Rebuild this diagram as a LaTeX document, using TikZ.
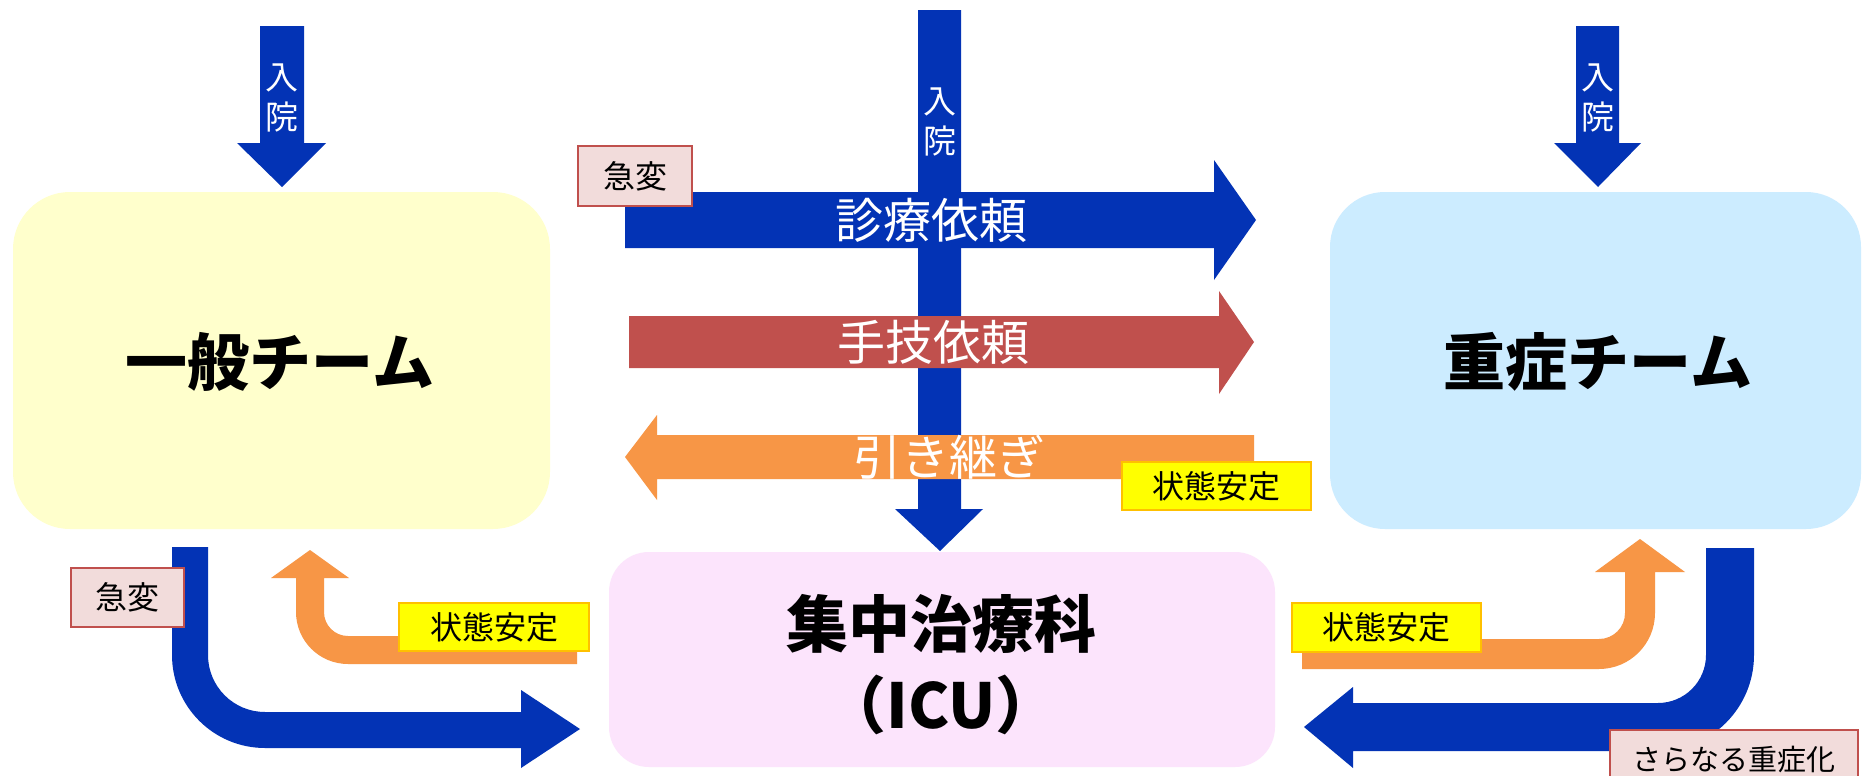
\documentclass[tikz,border=0pt]{standalone}
\usepackage{fontspec}
\newfontfamily\jp{Noto Sans CJK JP}
\definecolor{arrowblue}{RGB}{3,51,181}
\definecolor{arrowred}{RGB}{192,80,77}
\definecolor{arroworange}{RGB}{247,150,70}
\definecolor{teamyellow}{RGB}{255,255,204}
\definecolor{teamblue}{RGB}{204,236,255}
\definecolor{teampink}{RGB}{252,228,252}
\definecolor{tagpink}{RGB}{242,220,219}
\definecolor{tagred}{RGB}{192,80,77}
\definecolor{tagyellow}{RGB}{255,255,0}
\definecolor{taggold}{RGB}{255,192,0}
\begin{document}
\begin{tikzpicture}[x=0.5pt,y=-0.5pt,
  team/.style={inner sep=0, font=\jp\bfseries\fontsize{31}{36}\selectfont, text=black},
  teamlbl/.style={inner sep=0, font=\jp\bfseries\fontsize{31}{36}\selectfont, text=black},
  arrowtxt/.style={inner sep=0, text=white, font=\jp\fontsize{24}{28}\selectfont},
  admit/.style={inner sep=0, text=white, align=center, font=\jp\fontsize{16.5}{20}\selectfont},
  changetag/.style={draw=tagred, fill=tagpink, line width=1pt, inner sep=0, font=\jp\fontsize{16}{20}\selectfont},
  stabletag/.style={draw=taggold, fill=tagyellow, line width=1pt, inner sep=0, font=\jp\fontsize{16}{20}\selectfont},
  bluearrow/.style={fill=arrowblue},
  redarrow/.style={fill=arrowred},
  orangearrow/.style={fill=arroworange}]
\useasboundingbox (0,0) rectangle (1865,776);
\clip (0,0) rectangle (1865,776);
\fill[white] (0,0) rectangle (1865,776);

% team boxes
\node[fill=teamyellow, rounded corners=28.5pt, minimum width=268.5pt, minimum height=168.5pt, inner sep=0] (general) at (281.5,360.5) {};
\node[fill=teamblue, rounded corners=27.5pt, minimum width=265.5pt, minimum height=168.5pt, inner sep=0] (severe) at (1595.5,360.5) {};
\node[fill=teampink, rounded corners=20pt, minimum width=333pt, minimum height=107.5pt, inner sep=0] (icu) at (942,659.5) {};

\node[teamlbl] (generallbl) at (280,362) {一般チーム};
\node[teamlbl] (severelbl) at (1598,362) {重症チーム};
\node[teamlbl] (iculbl) at (941,624) {集中治療科};
\node[teamlbl] (icuabbr) at (941,705) {（ICU）};

% admission arrows
\fill[bluearrow] (260,26) -- (304,26) -- (304,143) -- (326,143) -- (282,187) -- (237,143) -- (260,143) -- cycle;
\fill[bluearrow] (1576,26) -- (1619,26) -- (1619,143) -- (1641,143) -- (1598,187) -- (1554,143) -- (1576,143) -- cycle;
\fill[bluearrow] (918,10) -- (961,10) -- (961,509) -- (983,509) -- (940,551) -- (895,509) -- (918,509) -- cycle;
\node[admit] (admitL) at (282,98) {入\\院};
\node[admit] (admitR) at (1598,98) {入\\院};
\node[admit] (admitC) at (940,122) {入\\院};

% horizontal arrows
\fill[bluearrow] (625,192) -- (1214,192) -- (1214,160) -- (1256,220) -- (1214,280) -- (1214,248) -- (625,248) -- cycle;
\fill[redarrow] (629,316) -- (1219,316) -- (1219,291) -- (1254,342) -- (1219,394) -- (1219,368) -- (629,368) -- cycle;
\fill[orangearrow] (1254,435) -- (657,435) -- (657,415) -- (625,457) -- (657,500) -- (657,479) -- (1254,479) -- cycle;
\node[arrowtxt] (consult) at (931,220) {診療依頼};
\node[arrowtxt] (procedure) at (933,342) {手技依頼};
\node[arrowtxt] (handover) at (949,457) {引き継ぎ};

% bent arrows bottom left
\fill[bluearrow] (172,547) -- (208,547) -- (208,655) .. controls (208,686.5) and (233.5,712) .. (265,712) -- (521,712) -- (521,690) -- (580,729) -- (521,768) -- (521,748) -- (265,748) .. controls (213.6,748) and (172,706.4) .. (172,655) -- cycle;
\fill[orangearrow] (296,578) -- (271,578) -- (310,550) -- (349,578) -- (324,578) -- (324,612) .. controls (324,625.3) and (334.7,636) .. (348,636) -- (577,636) -- (577,664) -- (348,664) .. controls (319.3,664) and (296,640.7) .. (296,612) -- cycle;

% bent arrows bottom right
\fill[orangearrow] (1625,572) -- (1595,572) -- (1640,539) -- (1685,572) -- (1655,572) -- (1655,613) .. controls (1655,643.9) and (1629.9,669) .. (1599,669) -- (1302,669) -- (1302,639) -- (1599,639) .. controls (1613.4,639) and (1625,627.4) .. (1625,613) -- cycle;
\fill[bluearrow] (1706,548) -- (1754,548) -- (1754,655) .. controls (1754,708) and (1711,751) .. (1658,751) -- (1353,751) -- (1353,768) -- (1304,727) -- (1353,687) -- (1353,703) -- (1658,703) .. controls (1684.5,703) and (1706,681.5) .. (1706,655) -- cycle;

% tags
\node[changetag, minimum width=57pt, minimum height=30pt] (changeTop) at (635,176) {急変};
\node[changetag, minimum width=56.5pt, minimum height=29.5pt] (changeBL) at (127.5,597.5) {急変};
\node[stabletag, minimum width=94.5pt, minimum height=24pt] (stableTop) at (1216.5,486) {状態安定};
\node[stabletag, minimum width=95pt, minimum height=24pt] (stableBL) at (494,627) {状態安定};
\node[stabletag, minimum width=94.5pt, minimum height=24.5pt] (stableBR) at (1386.5,627.5) {状態安定};
\node[changetag, font=\jp\fontsize{14.5}{18}\selectfont, minimum width=124pt, minimum height=30pt] (worse) at (1734,760) {さらなる重症化};
\end{tikzpicture}
\end{document}
